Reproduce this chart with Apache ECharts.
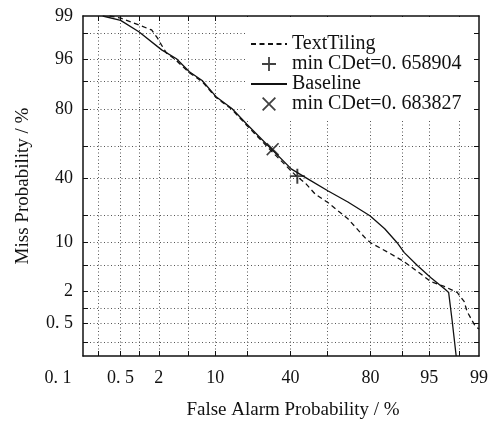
<!DOCTYPE html>
<html>
<head>
<meta charset="utf-8">
<script src="https://cdn.jsdelivr.net/npm/echarts@6/dist/echarts.min.js"></script>
<style>
html, body { margin: 0; padding: 0; background: #fff; }
#det { width: 491px; height: 425px; }
</style>
</head>
<body>
<div id="det"></div>
<script>
// 坐标刻度 (%)
var gridPct = [0.2, 0.5, 1, 2, 5, 10, 20, 40, 60, 80, 90, 95, 98];
var xTickPct = [0.1, 0.5, 2, 10, 40, 80, 95, 99];
var xTickLabels = ['0. 1', '0. 5', '2', '10', '40', '80', '95', '99'];
var yTickPct = [0.5, 2, 10, 40, 80, 95, 99];
var yTickLabels = ['0. 5', '2', '10', '40', '80', '96', '99'];

// TextTiling 曲线 (虚线)
var textTilingFA = [0.32, 0.5, 1.0, 1.57, 1.91, 2.18, 2.56, 3.28, 5.07, 7.2, 10.2, 14.6, 19.8, 30.5, 43.2, 48.0, 53.4, 60.4, 70.3, 78.2, 80.1, 86.8, 90.4, 93.1, 95.2, 96.8, 97.87, 98.31, 98.47, 98.85, 99.0];
var textTilingMiss = [99.0, 98.91, 98.55, 98.23, 97.6, 96.9, 95.9, 95.0, 92.3, 90.0, 84.8, 79.9, 72.0, 56.8, 41.1, 36.9, 30.5, 25.8, 18.3, 11.1, 9.9, 7.2, 5.6, 4.06, 2.86, 2.37, 1.89, 1.32, 0.87, 0.45, 0.39];

// Baseline 曲线 (实线)
var baselineFA = [0.24, 0.5, 1.0, 2.2, 3.5, 5.1, 7.2, 10.2, 14.6, 19.8, 30.5, 40.6, 49.6, 60.4, 70.3, 79.8, 85.0, 88.8, 90.4, 93.1, 95.2, 96.9, 97.2, 97.5, 97.8];
var baselineMiss = [99.0, 98.8, 98.1, 96.3, 95.0, 92.5, 90.3, 85.1, 80.3, 72.6, 58.1, 45.5, 39.3, 32.2, 26.2, 19.6, 14.4, 9.7, 7.45, 4.96, 3.3, 2.12, 1.89, 0.56, 0.1];

// 最小 CDet 点
var minTextTiling = [43.7, 41.1];
var minBaseline = [31.0, 58.1];

// 正态分布分位数 (Acklam)
function probit(p) {
    var a = [-3.969683028665376e+01, 2.209460984245205e+02, -2.759285104469687e+02, 1.383577518672690e+02, -3.066479806614716e+01, 2.506628277459239e+00];
    var b = [-5.447609879822406e+01, 1.615858368580409e+02, -1.556989798598866e+02, 6.680131188771972e+01, -1.328068155288572e+01];
    var c = [-7.784894002430293e-03, -3.223964580411365e-01, -2.400758277161838e+00, -2.549732539343734e+00, 4.374664141464968e+00, 2.938163982698783e+00];
    var d = [7.784695709041462e-03, 3.224671290700398e-01, 2.445134137142996e+00, 3.754408661907416e+00];
    var pl = 0.02425, q, r;
    if (p < pl) {
        q = Math.sqrt(-2 * Math.log(p));
        return (((((c[0]*q+c[1])*q+c[2])*q+c[3])*q+c[4])*q+c[5]) / ((((d[0]*q+d[1])*q+d[2])*q+d[3])*q+1);
    }
    if (p > 1 - pl) {
        q = Math.sqrt(-2 * Math.log(1 - p));
        return -(((((c[0]*q+c[1])*q+c[2])*q+c[3])*q+c[4])*q+c[5]) / ((((d[0]*q+d[1])*q+d[2])*q+d[3])*q+1);
    }
    q = p - 0.5; r = q * q;
    return (((((a[0]*r+a[1])*r+a[2])*r+a[3])*r+a[4])*r+a[5])*q / (((((b[0]*r+b[1])*r+b[2])*r+b[3])*r+b[4])*r+1);
}
function pz(v) { return probit(v / 100); }
function toPoints(xs, ys) {
    return xs.map(function (x, i) { return [pz(x), pz(ys[i])]; });
}
function labelFor(pcts, labels) {
    return function (val) {
        for (var i = 0; i < pcts.length; i++) {
            if (Math.abs(pz(pcts[i]) - val) < 1e-6) {
                return labels[i] === '0. 1' ? '{s|0. 1}' : labels[i];
            }
        }
        return '';
    };
}

var zMin = pz(0.1), zMax = pz(99);
var gridZ = gridPct.map(pz);
var serif = 'Liberation Serif';
var ink = '#111';

var plusPath = 'path://M8.7,0H11.3V8.7H20V11.3H11.3V20H8.7V11.3H0V8.7H8.7Z';
var crossPath = 'path://M0,1.8L1.8,0L10,8.2L18.2,0L20,1.8L11.8,10L20,18.2L18.2,20L10,11.8L1.8,20L0,18.2L8.2,10Z';
// 图例里线条不要圆点
var noDot = { color: 'rgba(0,0,0,0)', borderWidth: 0, opacity: 0 };

function frameAxis(pos, extra) {
    var o = {
        type: 'value', position: pos, min: zMin, max: zMax,
        axisLine: { show: true, onZero: false, lineStyle: { color: ink, width: 1.5 } },
        axisTick: { show: true, inside: true, length: 5, customValues: gridZ, lineStyle: { color: ink, width: 1 } },
        axisLabel: { show: false },
        splitLine: { show: false }
    };
    for (var k in extra) o[k] = extra[k];
    return o;
}

var myChart = echarts.init(document.getElementById('det'));
var option = {
    animation: false,
    backgroundColor: '#fff',
    grid: { left: 83, right: 8, top: 16, bottom: 67, containLabel: false },
    legend: {
        orient: 'vertical',
        left: 245, top: 17,
        padding: [17, 12, 6, 5],
        backgroundColor: '#fff',
        itemWidth: 36, itemHeight: 14, itemGap: 0,
        textStyle: { fontFamily: serif, fontSize: 20, lineHeight: 19.3, color: ink },
        data: [
            { name: 'TextTiling', itemStyle: noDot },
            'min CDet=0. 658904',
            { name: 'Baseline', itemStyle: noDot },
            'min CDet=0. 683827'
        ]
    },
    xAxis: [
        frameAxis('bottom', {
            name: 'False Alarm Probability / %',
            nameLocation: 'middle', nameGap: 45,
            nameTextStyle: { fontFamily: serif, fontSize: 19, color: ink, padding: [0, 0, 0, 24] },
            axisLabel: {
                show: true, margin: 13, customValues: xTickPct.map(pz),
                fontFamily: serif, fontSize: 18, color: ink,
                formatter: labelFor(xTickPct, xTickLabels),
                rich: { s: { padding: [0, 50, 0, 0] } }
            },
            splitLine: { show: true, lineStyle: { color: '#555', width: 1, type: [1, 2.5] } }
        }),
        frameAxis('top', {})
    ],
    yAxis: [
        frameAxis('left', {
            name: 'Miss Probability / %',
            nameLocation: 'middle', nameGap: 50,
            nameTextStyle: { fontFamily: serif, fontSize: 19, color: ink },
            axisLabel: {
                show: true, margin: 10, customValues: yTickPct.map(pz),
                fontFamily: serif, fontSize: 18, color: ink,
                formatter: labelFor(yTickPct, yTickLabels)
            },
            splitLine: { show: true, lineStyle: { color: '#555', width: 1, type: [1, 2.5] } }
        }),
        frameAxis('right', {})
    ],
    series: [
        {
            name: 'TextTiling', type: 'line', symbol: 'none', showSymbol: false,
            data: toPoints(textTilingFA, textTilingMiss),
            itemStyle: { color: ink },
            lineStyle: { color: ink, width: 1.3, type: [5, 3.5] }
        },
        {
            name: 'min CDet=0. 658904', type: 'scatter', symbol: plusPath, symbolSize: 15,
            data: [[pz(minTextTiling[0]), pz(minTextTiling[1])]],
            itemStyle: { color: ink }, z: 5
        },
        {
            name: 'Baseline', type: 'line', symbol: 'none', showSymbol: false,
            data: toPoints(baselineFA, baselineMiss),
            itemStyle: { color: ink },
            lineStyle: { color: ink, width: 1.3 }
        },
        {
            name: 'min CDet=0. 683827', type: 'scatter', symbol: crossPath, symbolSize: 13,
            data: [[pz(minBaseline[0]), pz(minBaseline[1])]],
            itemStyle: { color: ink }, z: 5
        }
    ]
};
myChart.setOption(option);
</script>
</body>
</html>
